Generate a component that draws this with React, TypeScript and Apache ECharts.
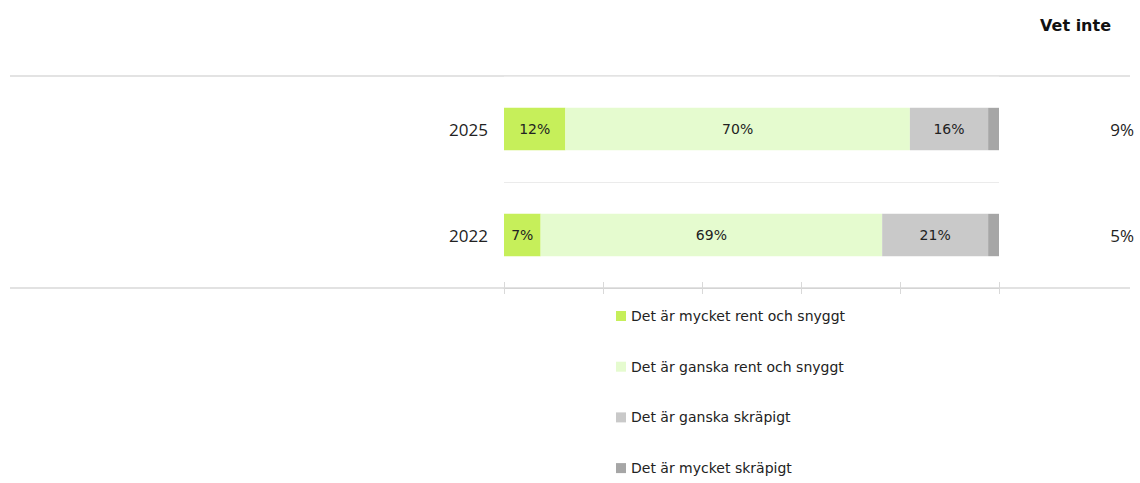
import React, { useEffect, useRef } from "react";
import * as echarts from "echarts";

const years = ["2025", "2022"];
const seriesNames = [
  "Det är mycket rent och snyggt",
  "Det är ganska rent och snyggt",
  "Det är ganska skräpigt",
  "Det är mycket skräpigt",
];
const veryClean = [12.4, 7.4];
const fairlyClean = [69.6, 69.0];
const fairlyLittered = [15.8, 21.4];
const veryLittered = [2.2, 2.2];
const dontKnow = [9, 5];
const colors = ["#c6ef5a", "#e5fbcf", "#c9c9c9", "#a6a6a6"];
const FONT = "'Open Sans', sans-serif";
const WIDE = "'DejaVu Sans', sans-serif";

export default function App() {
  const ref = useRef<HTMLDivElement>(null);
  useEffect(() => {
    if (!ref.current) return;
    const chart = echarts.init(ref.current, undefined, { renderer: "svg" });
    const values = [veryClean, fairlyClean, fairlyLittered, veryLittered];
    chart.setOption({
      animation: false,
      textStyle: { fontFamily: FONT },
      grid: { left: 504, right: 141, top: 76, bottom: 195 },
      legend: {
        orient: "vertical",
        left: 611,
        top: 304,
        itemWidth: 10,
        itemHeight: 10,
        itemGap: 36.7,
        icon: "rect",
        selectedMode: false,
        data: seriesNames,
        textStyle: { fontFamily: WIDE, fontSize: 14, color: "#222" },
      },
      xAxis: [
        {
          type: "value",
          min: 0,
          max: 100,
          interval: 20,
          axisLine: { show: true, lineStyle: { color: "#d4d4d4", width: 1 } },
          axisTick: { show: true, length: 6, lineStyle: { color: "#d9d9d9" } },
          axisLabel: { show: false },
          splitLine: { show: false },
        },
        {
          type: "value",
          min: 0,
          max: 100,
          interval: 20,
          position: "bottom",
          axisLine: { show: false },
          axisTick: { show: true, inside: true, length: 6, lineStyle: { color: "#d9d9d9" } },
          axisLabel: { show: false },
          splitLine: { show: false },
        },
      ],
      yAxis: [
        {
          type: "category",
          inverse: true,
          data: years,
          axisLine: { show: false },
          axisTick: { show: false },
          axisLabel: { fontSize: 17, color: "#222", margin: 16, fontFamily: FONT },
          splitLine: { show: true, lineStyle: { color: "#ebebeb" } },
        },
        {
          type: "category",
          inverse: true,
          position: "right",
          data: years,
          axisLine: { show: false },
          axisTick: { show: false },
          axisLabel: {
            fontSize: 17,
            color: "#222",
            align: "right",
            margin: 135,
            fontFamily: FONT,
            formatter: (_v: string, i: number) => dontKnow[i] + "%",
          },
          splitLine: { show: false },
        },
      ],
      graphic: [
        {
          type: "line",
          shape: { x1: 10, y1: 76, x2: 1130, y2: 76 },
          style: { stroke: "#e3e3e3", lineWidth: 2 },
          z: 0,
        },
        {
          type: "line",
          shape: { x1: 10, y1: 288, x2: 1130, y2: 288 },
          style: { stroke: "#d9d9d9", lineWidth: 1.5 },
          z: 0,
        },
        {
          type: "text",
          x: 1111,
          y: 25,
          style: {
            text: "Vet inte",
            fontFamily: WIDE,
            fontSize: 16,
            fontWeight: "bold",
            fill: "#111",
            textAlign: "right",
            textVerticalAlign: "middle",
          },
        },
      ],
      series: seriesNames.map((name, k) => ({
        name,
        type: "bar",
        stack: "total",
        barWidth: "40%",
        data: values[k],
        itemStyle: { color: colors[k] },
        label: {
          show: k < 3,
          position: "inside",
          fontSize: 14,
          color: "#222",
          fontFamily: WIDE,
          formatter: (p: any) => Math.round(p.value) + "%",
        },
      })),
    });
    return () => chart.dispose();
  }, []);
  return <div ref={ref} style={{ width: 1140, height: 483, position: "absolute", left: 0, top: 0 }} />;
}
